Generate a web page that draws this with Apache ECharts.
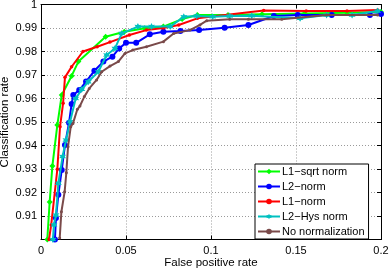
<!DOCTYPE html>
<html><head><meta charset="utf-8">
<script src="https://cdn.jsdelivr.net/npm/echarts@6/dist/echarts.min.js"></script>
<style>html,body{margin:0;padding:0;background:#fff}#c{width:390px;height:269px}</style>
</head><body><div id="c"></div>
<script>
const seriesNames = ['L1\u2212sqrt norm', 'L2\u2212norm', 'L1\u2212norm', 'L2\u2212Hys norm', 'No normalization'];
const xTicks = [0, 0.05, 0.1, 0.15, 0.2];
const yTicks = [0.91, 0.92, 0.93, 0.94, 0.95, 0.96, 0.97, 0.98, 0.99, 1];

const greenX = [0.0037, 0.0051, 0.0067, 0.0096, 0.0122, 0.018, 0.022, 0.038, 0.049, 0.061, 0.072, 0.083, 0.092, 0.11, 0.13, 0.155, 0.18, 0.2];
const greenY = [0.900, 0.916, 0.9313, 0.9487, 0.9615, 0.9696, 0.9757, 0.9863, 0.9884, 0.9899, 0.9906, 0.9938, 0.9955, 0.9955, 0.9958, 0.9962, 0.9965, 0.9968];

const blueX = [0.0082, 0.0088, 0.0102, 0.0122, 0.0141, 0.0165, 0.018, 0.019, 0.0225, 0.0265, 0.0314, 0.0367, 0.042, 0.046, 0.050, 0.056, 0.064, 0.072, 0.082, 0.093, 0.108, 0.122, 0.137, 0.151, 0.171, 0.1935, 0.2];
const blueY = [0.900, 0.9091, 0.919, 0.9296, 0.9402, 0.9497, 0.9577, 0.9615, 0.9636, 0.9672, 0.9718, 0.9757, 0.9778, 0.9813, 0.9837, 0.9837, 0.9873, 0.9884, 0.9887, 0.9891, 0.9901, 0.9913, 0.9951, 0.9955, 0.9955, 0.9955, 0.996];

const redX = [0.0047, 0.006, 0.0096, 0.0112, 0.013, 0.0141, 0.018, 0.0247, 0.033, 0.0406, 0.052, 0.062, 0.072, 0.081, 0.092, 0.131, 0.156, 0.18, 0.198];
const redY = [0.900, 0.9062, 0.9299, 0.948, 0.958, 0.969, 0.9735, 0.980, 0.982, 0.984, 0.987, 0.9891, 0.990, 0.9913, 0.9941, 0.9974, 0.9972, 0.9972, 0.9977];

const cyanX = [0.0070, 0.0076, 0.0088, 0.0102, 0.0127, 0.0147, 0.0171, 0.0204, 0.024, 0.0278, 0.0337, 0.0386, 0.0435, 0.0475, 0.057, 0.065, 0.076, 0.084, 0.0916, 0.101, 0.111, 0.124, 0.1524, 0.168, 0.183, 0.198];
const cyanY = [0.900, 0.9062, 0.9104, 0.9239, 0.9353, 0.9423, 0.9501, 0.960, 0.9639, 0.9671, 0.9714, 0.9785, 0.9813, 0.9877, 0.9906, 0.9906, 0.9906, 0.9948, 0.9951, 0.9948, 0.9951, 0.9952, 0.9941, 0.9955, 0.9955, 0.9972];

const brownX = [0.011, 0.012, 0.0139, 0.0149, 0.0159, 0.0175, 0.0188, 0.0214, 0.0229, 0.0255, 0.0284, 0.0327, 0.0357, 0.0406, 0.0455, 0.0494, 0.054, 0.062, 0.072, 0.078, 0.0876, 0.0935, 0.0975, 0.111, 0.122, 0.1416, 0.168, 0.198];
const brownY = [0.9006, 0.9118, 0.9203, 0.9284, 0.9395, 0.948, 0.9494, 0.9554, 0.9568, 0.9608, 0.9643, 0.9679, 0.9714, 0.9738, 0.9757, 0.9792, 0.9806, 0.982, 0.9842, 0.9877, 0.9891, 0.9913, 0.9931, 0.9937, 0.9937, 0.9937, 0.9955, 0.9955];

const FONT = '"Liberation Sans", Arial, sans-serif';
const STAR = 'path://M0,-10 L2.6,-4.5 L8.7,-5 L5.2,0 L8.7,5 L2.6,4.5 L0,10 L-2.6,4.5 L-8.7,5 L-5.2,0 L-8.7,-5 L-2.6,-4.5 Z';

function zip(xs, ys) { return xs.map((x, i) => [x, ys[i]]); }

const styles = [
  {color: '#00ff00', symbol: 'diamond', size: 6},
  {color: '#0000ff', symbol: 'circle', size: 6},
  {color: '#ff0000', symbol: 'circle', size: 3.5},
  {color: '#00c0c0', symbol: STAR, size: 7},
  {color: '#7a4a4a', symbol: 'circle', size: 3}
];
const dataSets = [zip(greenX, greenY), zip(blueX, blueY), zip(redX, redY), zip(cyanX, cyanY), zip(brownX, brownY)];

const fmtX = v => String(+v.toFixed(2));
const fmtY = v => (Math.abs(v - 1) < 1e-9 ? '1' : v.toFixed(2));

const chart = echarts.init(document.getElementById('c'), null, {renderer: 'canvas'});
const gridLine = {show: true, lineStyle: {color: '#9a9a9a', type: [1, 2], width: 1}};
chart.setOption({
  animation: false,
  backgroundColor: '#fff',
  textStyle: {fontFamily: FONT},
  grid: {left: 41, right: 9, top: 4.5, bottom: 29.5, containLabel: false, outerBoundsMode: 'none'},
  xAxis: [{
    type: 'value', min: 0, max: 0.2, interval: 0.05, position: 'bottom',
    name: 'False positive rate', nameLocation: 'middle', nameGap: 17, nameMoveOverlap: false,
    nameTextStyle: {fontFamily: FONT, fontSize: 11.5, color: '#000'},
    axisLine: {show: true, onZero: false, lineStyle: {color: '#000', width: 1}},
    axisTick: {show: true, inside: true, length: 4, lineStyle: {color: '#000'}},
    axisLabel: {formatter: fmtX, fontFamily: FONT, fontSize: 11, color: '#000', margin: 6},
    splitLine: gridLine
  }, {
    type: 'value', min: 0, max: 0.2, interval: 0.05, position: 'top',
    axisLine: {show: true, onZero: false, lineStyle: {color: '#000', width: 1}},
    axisTick: {show: true, inside: true, length: 4, lineStyle: {color: '#000'}},
    axisLabel: {show: false}, splitLine: {show: false}
  }],
  yAxis: [{
    type: 'value', min: 0.9, max: 1, interval: 0.01, position: 'left',
    name: 'Classification rate', nameLocation: 'middle', nameGap: 30, nameRotate: 90, nameMoveOverlap: false,
    nameTextStyle: {fontFamily: FONT, fontSize: 11.5, color: '#000'},
    axisLine: {show: true, onZero: false, lineStyle: {color: '#000', width: 1}},
    axisTick: {show: true, inside: true, length: 4, lineStyle: {color: '#000'}},
    axisLabel: {formatter: fmtY, fontFamily: FONT, fontSize: 11, color: '#000', margin: 4, showMinLabel: false},
    splitLine: gridLine
  }, {
    type: 'value', min: 0.9, max: 1, interval: 0.01, position: 'right',
    axisLine: {show: true, onZero: false, lineStyle: {color: '#000', width: 1}},
    axisTick: {show: true, inside: true, length: 4, lineStyle: {color: '#000'}},
    axisLabel: {show: false}, splitLine: {show: false}
  }],
  legend: {
    orient: 'vertical', left: 255, top: 164, width: 119,
    backgroundColor: '#fff', borderColor: '#000', borderWidth: 1,
    padding: [1, 4, 1, 2], itemGap: 2, itemWidth: 22, itemHeight: 7,
    textStyle: {fontFamily: FONT, fontSize: 11, color: '#000', padding: [0, 0, 0, -3], lineHeight: 13},
    data: seriesNames.map((n, i) => ({name: n, itemStyle: {color: styles[i].color}}))
  },
  series: dataSets.map((d, i) => ({
    name: seriesNames[i], type: 'line', data: d, xAxisIndex: 0, yAxisIndex: 0,
    symbol: styles[i].symbol, symbolSize: styles[i].size, showAllSymbol: true,
    lineStyle: {color: styles[i].color, width: 2},
    itemStyle: {color: styles[i].color, borderWidth: 0},
    clip: true, z: 2 + i
  }))
});
</script></body></html>
